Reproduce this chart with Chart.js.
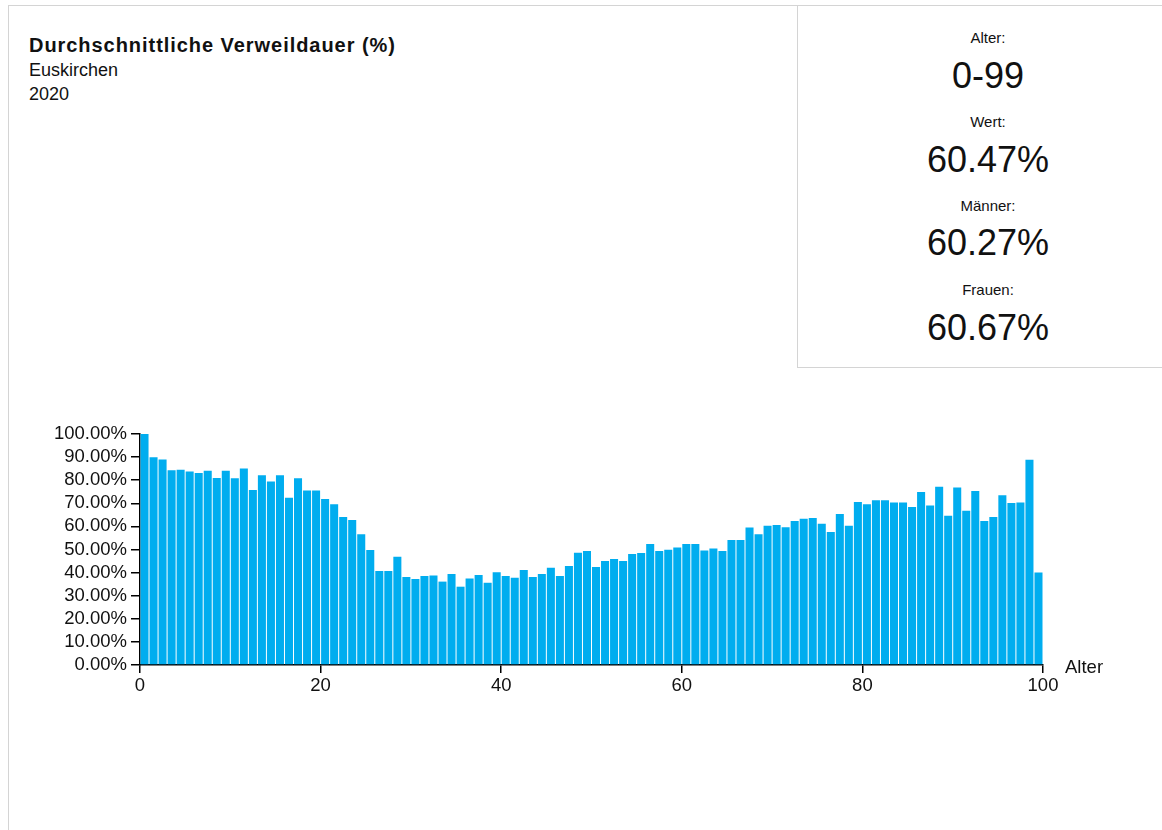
<!DOCTYPE html>
<html lang="de">
<head>
<meta charset="utf-8">
<title>Durchschnittliche Verweildauer (%)</title>
<script src="https://cdn.jsdelivr.net/npm/chart.js@4/dist/chart.umd.min.js"></script>
<style>
    html, body { margin: 0; padding: 0; background: #fff; }
    body { width: 1162px; height: 830px; position: relative; overflow: hidden;
           font-family: "Liberation Sans", Arial, Helvetica, sans-serif; color: #111; }
    #frame { position: absolute; left: 8px; top: 5px; width: 1160px; height: 830px;
             border-left: 1px solid #d4d4d4; border-top: 1px solid #d4d4d4; }
    #title { position: absolute; left: 29px; top: 34px; font-size: 20px; font-weight: bold;
             letter-spacing: 0.95px; line-height: 22px; }
    .sub { position: absolute; left: 29px; font-size: 18px; line-height: 20px; }
    #panel { position: absolute; left: 797px; top: 5px; width: 380px; height: 361px;
             border: 1px solid #d4d4d4; background: #fff; }
    .lbl, .val { position: absolute; left: 0; width: 380px; text-align: center; }
    .lbl { font-size: 15px; line-height: 18px; }
    .val { font-size: 36px; line-height: 40px; }
    #chart_box { position: absolute; left: 0; top: 400px; width: 1162px; height: 310px; }
</style>
</head>
<body>
<div id="frame"></div>
<div id="title">Durchschnittliche Verweildauer (%)</div>
<div class="sub" style="top:60px">Euskirchen</div>
<div class="sub" style="top:84px">2020</div>

<div id="panel">
    <div class="lbl" style="top:23px">Alter:</div>
    <div class="val" style="top:50px">0-99</div>
    <div class="lbl" style="top:107px">Wert:</div>
    <div class="val" style="top:134px">60.47%</div>
    <div class="lbl" style="top:191px">Männer:</div>
    <div class="val" style="top:217px">60.27%</div>
    <div class="lbl" style="top:275px">Frauen:</div>
    <div class="val" style="top:302px">60.67%</div>
</div>

<div id="chart_box"><canvas id="chart_canvas" width="1162" height="310"></canvas></div>

<script>
// Alter 0-99
const ages = Array.from({length: 100}, (_, i) => i);

// Verweildauer in % je Altersjahr
const values = [
    100.0, 89.9, 89.0, 84.3, 84.5, 83.8, 83.1, 84.1, 81.0, 84.1,
    80.8, 85.1, 75.8, 82.1, 79.4, 82.1, 72.4, 80.8, 75.5, 75.5,
    71.9, 69.6, 64.1, 62.8, 56.6, 49.8, 40.7, 40.7, 46.9, 38.1,
    37.2, 38.5, 38.7, 36.1, 39.4, 33.9, 37.4, 39.0, 35.6, 40.1,
    38.5, 37.8, 41.1, 38.1, 39.4, 42.1, 38.5, 42.9, 48.6, 49.4,
    42.4, 45.0, 45.9, 45.0, 48.1, 48.5, 52.4, 49.4, 49.9, 50.9,
    52.4, 52.4, 49.6, 50.4, 49.4, 54.1, 54.1, 59.5, 56.6, 60.3,
    60.6, 59.6, 62.3, 63.3, 63.6, 61.2, 57.6, 65.4, 60.3, 70.6,
    69.6, 71.3, 71.3, 70.3, 70.4, 68.4, 74.9, 69.0, 77.2, 64.6,
    76.8, 66.8, 75.3, 62.3, 64.1, 73.5, 70.1, 70.4, 88.9, 40.0
];

const x_ticks = [0, 20, 40, 60, 80, 100];
const y_ticks = [0, 10, 20, 30, 40, 50, 60, 70, 80, 90, 100];

const bar_color = "#00adef";
const text_color = "#111";
const tick_font = { family: "'Liberation Sans', Arial, sans-serif", size: 18.5 };

// Achsentitel rechts neben der x-Achse
const axisTitlePlugin = {
    id: "axis_title",
    afterDraw(chart){
        const ctx = chart.ctx;
        const area = chart.chartArea;
        ctx.save();
        ctx.font = "18.5px 'Liberation Sans', Arial, sans-serif";
        ctx.fillStyle = text_color;
        ctx.textAlign = "left";
        ctx.textBaseline = "middle";
        ctx.fillText("Alter", area.right + 22, area.bottom + 3);
        ctx.restore();
    }
};

let points = [];
for(let i in ages){
    points.push({ x: ages[i] + 0.5, y: values[i] });
}

new Chart(document.getElementById("chart_canvas").getContext("2d"), {
    type: "bar",
    data: {
        datasets: [{
            label: "Verweildauer",
            data: points,
            backgroundColor: bar_color,
            borderWidth: 0,
            categoryPercentage: 1,
            barPercentage: 0.89
        }]
    },
    options: {
        responsive: false,
        animation: false,
        layout: { padding: { top: 34, right: 119, left: 0, bottom: 0 } },
        plugins: { legend: { display: false }, tooltip: { enabled: false } },
        scales: {
            x: {
                type: "linear",
                min: 0,
                max: 100,
                offset: false,
                afterFit(scale){ scale.height = 45; },
                afterBuildTicks(scale){ scale.ticks = x_ticks.map(v => ({ value: v })); },
                grid: { offset: false, drawOnChartArea: false, drawTicks: true, tickLength: 8, color: "#000", lineWidth: 1.5 },
                border: { display: true, color: "#000", width: 1.5 },
                ticks: { color: text_color, font: tick_font, padding: 2, maxRotation: 0, autoSkip: false }
            },
            y: {
                min: 0,
                max: 100,
                afterFit(scale){ scale.width = 140; },
                afterBuildTicks(scale){ scale.ticks = y_ticks.map(v => ({ value: v })); },
                grid: { drawOnChartArea: false, drawTicks: true, tickLength: 9, color: "#000", lineWidth: 1.5 },
                border: { display: true, color: "#000", width: 1.5 },
                ticks: {
                    color: text_color,
                    font: tick_font,
                    padding: 4,
                    autoSkip: false,
                    callback: function(v){ return v.toFixed(2) + "%"; }
                }
            }
        }
    },
    plugins: [axisTitlePlugin]
});
</script>
</body>
</html>
